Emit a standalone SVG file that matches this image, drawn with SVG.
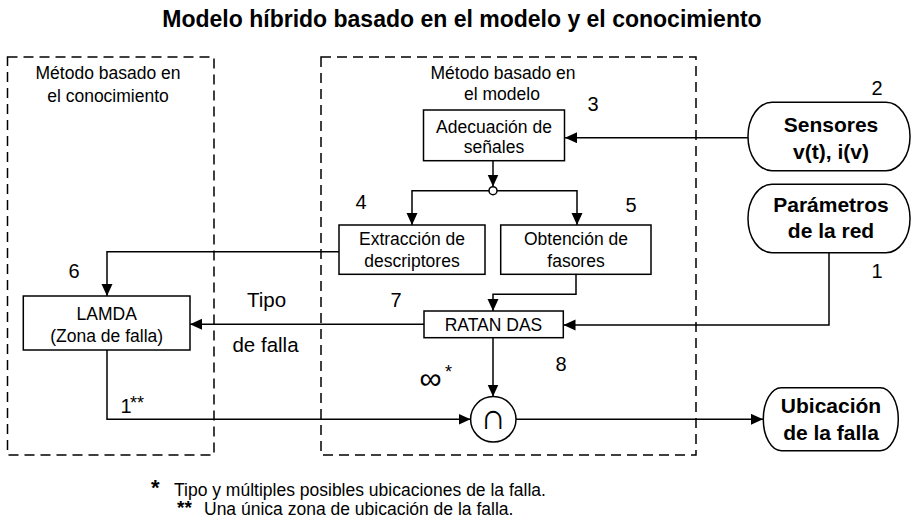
<svg xmlns="http://www.w3.org/2000/svg" width="912" height="521" viewBox="0 0 912 521">
<defs>
<style>
text{font-family:"Liberation Sans",Arial,sans-serif;fill:#000}
.t{font-size:17.5px;text-anchor:middle}
.b{font-size:21px;font-weight:bold;text-anchor:middle}
.n{font-size:20px;text-anchor:middle}
.box{fill:#fff;stroke:#000;stroke-width:1.5}
.dash{fill:none;stroke:#000;stroke-width:1.5;stroke-dasharray:10 6}
.ln{fill:none;stroke:#000;stroke-width:1.5}
</style>
<marker id="ah" markerUnits="userSpaceOnUse" markerWidth="13" markerHeight="12" refX="12" refY="5.5" orient="auto">
<path d="M0,0 L12,5.5 L0,11 Z" fill="#000"/>
</marker>
</defs>
<rect width="912" height="521" fill="#fff"/>
<text x="462" y="27" style="font-size:23px;font-weight:bold;text-anchor:middle">Modelo híbrido basado en el modelo y el conocimiento</text>

<g id="zona-conocimiento">
<rect class="dash" x="7.5" y="57" width="206.5" height="398"/>
<text class="t" x="108" y="79">Método basado en</text>
<text class="t" x="108" y="101.5">el conocimiento</text>
</g>
<g id="zona-modelo">
<rect class="dash" x="321" y="57" width="375" height="398"/>
<text class="t" x="503" y="79">Método basado en</text>
<text class="t" x="502" y="100">el modelo</text>
</g>

<g id="connectors">
<path class="ln" d="M748,137.7 H565" marker-end="url(#ah)"/>
<path class="ln" d="M493,161 V186.5" marker-end="url(#ah)"/>
<path class="ln" d="M489,190.7 H412 V225" marker-end="url(#ah)"/>
<path class="ln" d="M497,190.7 H577 V225" marker-end="url(#ah)"/>
<path class="ln" d="M339,251.7 H107 V296" marker-end="url(#ah)"/>
<path class="ln" d="M576,274.3 V294.3 H493 V311" marker-end="url(#ah)"/>
<path class="ln" d="M829,253 V325 H563.5" marker-end="url(#ah)"/>
<path class="ln" d="M424,324.3 H190" marker-end="url(#ah)"/>
<path class="ln" d="M493,338 V396.5" marker-end="url(#ah)"/>
<path class="ln" d="M107,350 V419.3 H470.5" marker-end="url(#ah)"/>
<path class="ln" d="M516,419.3 H763" marker-end="url(#ah)"/>
<circle cx="493" cy="190.7" r="4" fill="#fff" stroke="#000" stroke-width="1.5"/>
</g>

<g id="adecuacion">
<rect class="box" x="423.5" y="110" width="141" height="50.7"/>
<text class="t" x="494" y="133">Adecuación de</text>
<text class="t" x="494" y="152.5">señales</text>
<text class="n" x="593" y="110.7">3</text>
</g>
<g id="extraccion">
<rect class="box" x="339" y="225" width="146" height="49.3"/>
<text class="t" x="412" y="245">Extracción de</text>
<text class="t" x="412" y="266.5">descriptores</text>
<text class="n" x="361" y="209.3">4</text>
</g>
<g id="obtencion">
<rect class="box" x="500.7" y="225" width="150.3" height="49.3"/>
<text class="t" x="576" y="245">Obtención de</text>
<text class="t" x="576" y="266.5">fasores</text>
<text class="n" x="631" y="212.3">5</text>
</g>
<g id="sensores">
<rect class="box" x="748" y="102.3" width="162" height="68.4" rx="24" ry="34"/>
<text class="b" x="831" y="131.7">Sensores</text>
<text class="b" x="831" y="158.5">v(t), i(v)</text>
<text class="n" x="877" y="95">2</text>
</g>
<g id="parametros">
<rect class="box" x="748" y="184.3" width="162" height="68.4" rx="24" ry="34"/>
<text class="b" x="831" y="212.3">Parámetros</text>
<text class="b" x="831" y="238.3">de la red</text>
<text class="n" x="877" y="277.7">1</text>
</g>
<g id="lamda">
<rect class="box" x="23.3" y="296" width="166.7" height="54"/>
<text class="t" x="106.7" y="320">LAMDA</text>
<text class="t" x="106.7" y="342">(Zona de falla)</text>
<text class="n" x="74" y="278.3">6</text>
<text style="font-size:20.5px;text-anchor:middle" x="266.5" y="306.7">Tipo</text>
<text style="font-size:20.5px;text-anchor:middle" x="265.5" y="351.7">de falla</text>
<text class="n" x="126" y="412.7">1</text>
<text style="font-size:18px" x="130" y="409">**</text>
</g>
<g id="ratan">
<rect class="box" x="424" y="311" width="139.3" height="26.7"/>
<text class="t" x="493.5" y="330.7">RATAN DAS</text>
<text class="n" x="396" y="306.7">7</text>
<text class="n" x="561" y="370.7">8</text>
<text style="font-size:31px;text-anchor:middle" x="430.5" y="389">∞</text>
<text style="font-size:18px" x="445" y="378">*</text>
</g>
<g id="interseccion">
<circle cx="493.3" cy="419.3" r="22.7" fill="#fff" stroke="#000" stroke-width="1.5"/>
<text style="font-family:'DejaVu Sans',sans-serif;font-size:36px;font-weight:300;text-anchor:middle" x="493.3" y="429">∩</text>
</g>
<g id="ubicacion">
<rect class="box" x="763.3" y="387.7" width="135" height="63" rx="18" ry="31.5"/>
<text class="b" x="831" y="413.3">Ubicación</text>
<text class="b" x="831" y="440">de la falla</text>
</g>
<g id="notas">
<text style="font-size:22px;font-weight:bold" x="151" y="495">*</text>
<text style="font-size:17.5px" x="174" y="495.7">Tipo y múltiples posibles ubicaciones de la falla.</text>
<text style="font-size:19px;font-weight:bold" x="177" y="514">**</text>
<text style="font-size:17.5px" x="204" y="515">Una única zona de ubicación de la falla.</text>
</g>
</svg>
